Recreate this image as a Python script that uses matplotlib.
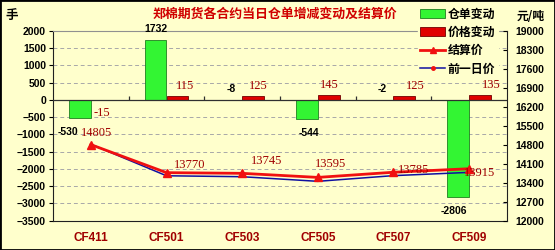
import matplotlib
matplotlib.use("Agg")
import matplotlib.pyplot as plt
from matplotlib.lines import Line2D
from matplotlib.patches import Patch, Rectangle
import numpy as np

contracts = ["CF411", "CF501", "CF503", "CF505", "CF507", "CF509"]
receipt_change = [-530, 1732, -8, -544, -2, -2806]      # 仓单变动 (手)
price_change = [-15, 115, 125, 145, 125, 135]           # 价格变动
settle_price = [14805, 13770, 13745, 13595, 13785, 13915]
prev_price = [14820, 13655, 13620, 13450, 13660, 13780]

BG = "#FFFFCC"
DARK_RED = "#A00000"
GREEN = "#33F533"
RED = "#E00000"
CJK = ["Noto Sans CJK SC", "DejaVu Sans"]

fig = plt.figure(figsize=(5.55, 2.5), dpi=100, facecolor=BG)
ax = fig.add_axes([53 / 555, 1 - 220.6 / 250, 454 / 555, 189.6 / 250], facecolor=BG)
ax2 = ax.twinx()

x = np.arange(len(contracts))
w = 0.29
ax.bar(x - w / 2, receipt_change, w, color=GREEN, edgecolor="#208020", linewidth=0.6, zorder=3)
ax.bar(x + w / 2, price_change, w, color=RED, edgecolor="#700000", linewidth=0.6, zorder=3)

ax.set_xlim(-0.5, len(contracts) - 0.5)
ax.set_ylim(-3500, 2000)
ax.set_yticks(np.arange(-3500, 2001, 500))
ax.set_xticks(x)
ax.set_xticklabels(contracts, color=DARK_RED, fontweight="bold", fontsize=8.5,
                   family="Liberation Sans")
ax.tick_params(axis="x", length=0, pad=8)
ax.tick_params(axis="y", direction="out", length=3, labelsize=7.5, pad=2)
for lab in ax.get_yticklabels():
    lab.set_fontweight("bold")
    lab.set_family("Liberation Sans")

for yv in np.arange(-3000, 2001, 500):
    if yv != 0:
        ax.axhline(yv, color="#A8A8A8", lw=0.7, ls=(0, (4, 3)), zorder=1)
ax.axhline(0, color="#303030", lw=0.9, zorder=4)
# small category-boundary ticks on the zero line
ax.vlines(x[:-1] + 0.5, 0, 120, color="#303030", lw=0.9, zorder=4)

for sp in ["left", "bottom"]:
    ax.spines[sp].set_color("#202020")
ax.spines["top"].set_color("#909090")
ax.spines["right"].set_visible(False)

# right axis: settlement and previous-day prices
ax2.plot(x, prev_price, color="#1010A0", lw=1.1, zorder=5)
ax2.plot(x, settle_price, color="#F01010", lw=2.0, marker="^", ms=5.5, zorder=6)
ax2.set_ylim(12000, 19000)
ax2.set_yticks(np.arange(12000, 19001, 700))
ax2.tick_params(axis="y", direction="in", length=3, labelsize=7.5, pad=6)
for lab in ax2.get_yticklabels():
    lab.set_fontweight("bold")
    lab.set_family("Liberation Sans")
ax2.spines["right"].set_color("#202020")
ax2.spines["top"].set_visible(False)
ax2.spines["left"].set_visible(False)
ax2.spines["bottom"].set_visible(False)

# data labels
green_dx = [-12, 0, 0, 2, 0, -4]
for xi, v, dx in zip(x, receipt_change, green_dx):
    big = abs(v) > 100
    dy = (11 if v > 0 else -14) if big else 11
    ax.annotate(f"{v}", (xi - w / 2, v if big else 0), xytext=(dx, dy),
                textcoords="offset pixels", ha="center", va="center",
                fontsize=7.5, fontweight="bold", family="Liberation Sans",
                color="black", zorder=7)

red_dx = [0, 8, 5, 0, 11, 11]
for xi, v, dx in zip(x, price_change, red_dx):
    dy = 10 if v > 0 else -13
    ax.annotate(f"{v}", (xi + w / 2, v), xytext=(dx, dy),
                textcoords="offset pixels", ha="center", va="center",
                fontsize=9, family="Liberation Serif", color=DARK_RED, zorder=7)

settle_off = [(6, 12), (23, 8), (24, 12), (13, 13), (20, 2), (10, -4)]
for xi, v, (dx, dy) in zip(x, settle_price, settle_off):
    ax2.annotate(f"{v}", (xi, v), xytext=(dx, dy), textcoords="offset pixels",
                 ha="center", va="center", fontsize=9, family="Liberation Serif",
                 color=DARK_RED, zorder=8)

# title and unit labels
fig.text(275 / 555, 1 - 14 / 250, "郑棉期货各合约当日仓单增减变动及结算价", ha="center",
         va="center", fontsize=9.3, fontweight="bold", color="#D00000", family=CJK)
fig.text(12 / 555, 1 - 15 / 250, "手", ha="center", va="center", fontsize=9,
         fontweight="bold", family=CJK)
fig.text(531 / 555, 1 - 16 / 250, "元/吨", ha="center", va="center", fontsize=8.5,
         fontweight="bold", family=CJK)

handles = [
    Patch(facecolor=GREEN, edgecolor="#208020", lw=0.6),
    Patch(facecolor=RED, edgecolor="#700000", lw=0.6),
    Line2D([], [], color="#F01010", lw=2.0, marker="^", ms=5),
    Line2D([], [], color="#1010A0", lw=1.1, marker="o", ms=2.5,
           markerfacecolor="#F01010", markeredgecolor="#F01010"),
]
labels = ["仓单变动", "价格变动", "结算价", "前一日价"]
leg = fig.legend(handles, labels, loc="upper left", bbox_to_anchor=(418 / 555, 1 - 5 / 250),
                 frameon=True, facecolor=BG, edgecolor=BG, framealpha=1,
                 prop={"family": CJK, "size": 8.6, "weight": "bold"},
                 handlelength=2.1, handleheight=0.8, handletextpad=0.2,
                 labelspacing=0.45, borderpad=0.2, borderaxespad=0)
leg.set_zorder(10)

fig.patches.append(Rectangle((0, 0), 1, 1, transform=fig.transFigure, fill=False,
                             edgecolor="black", lw=2))

fig.savefig("out.png", dpi=100, facecolor=BG)
